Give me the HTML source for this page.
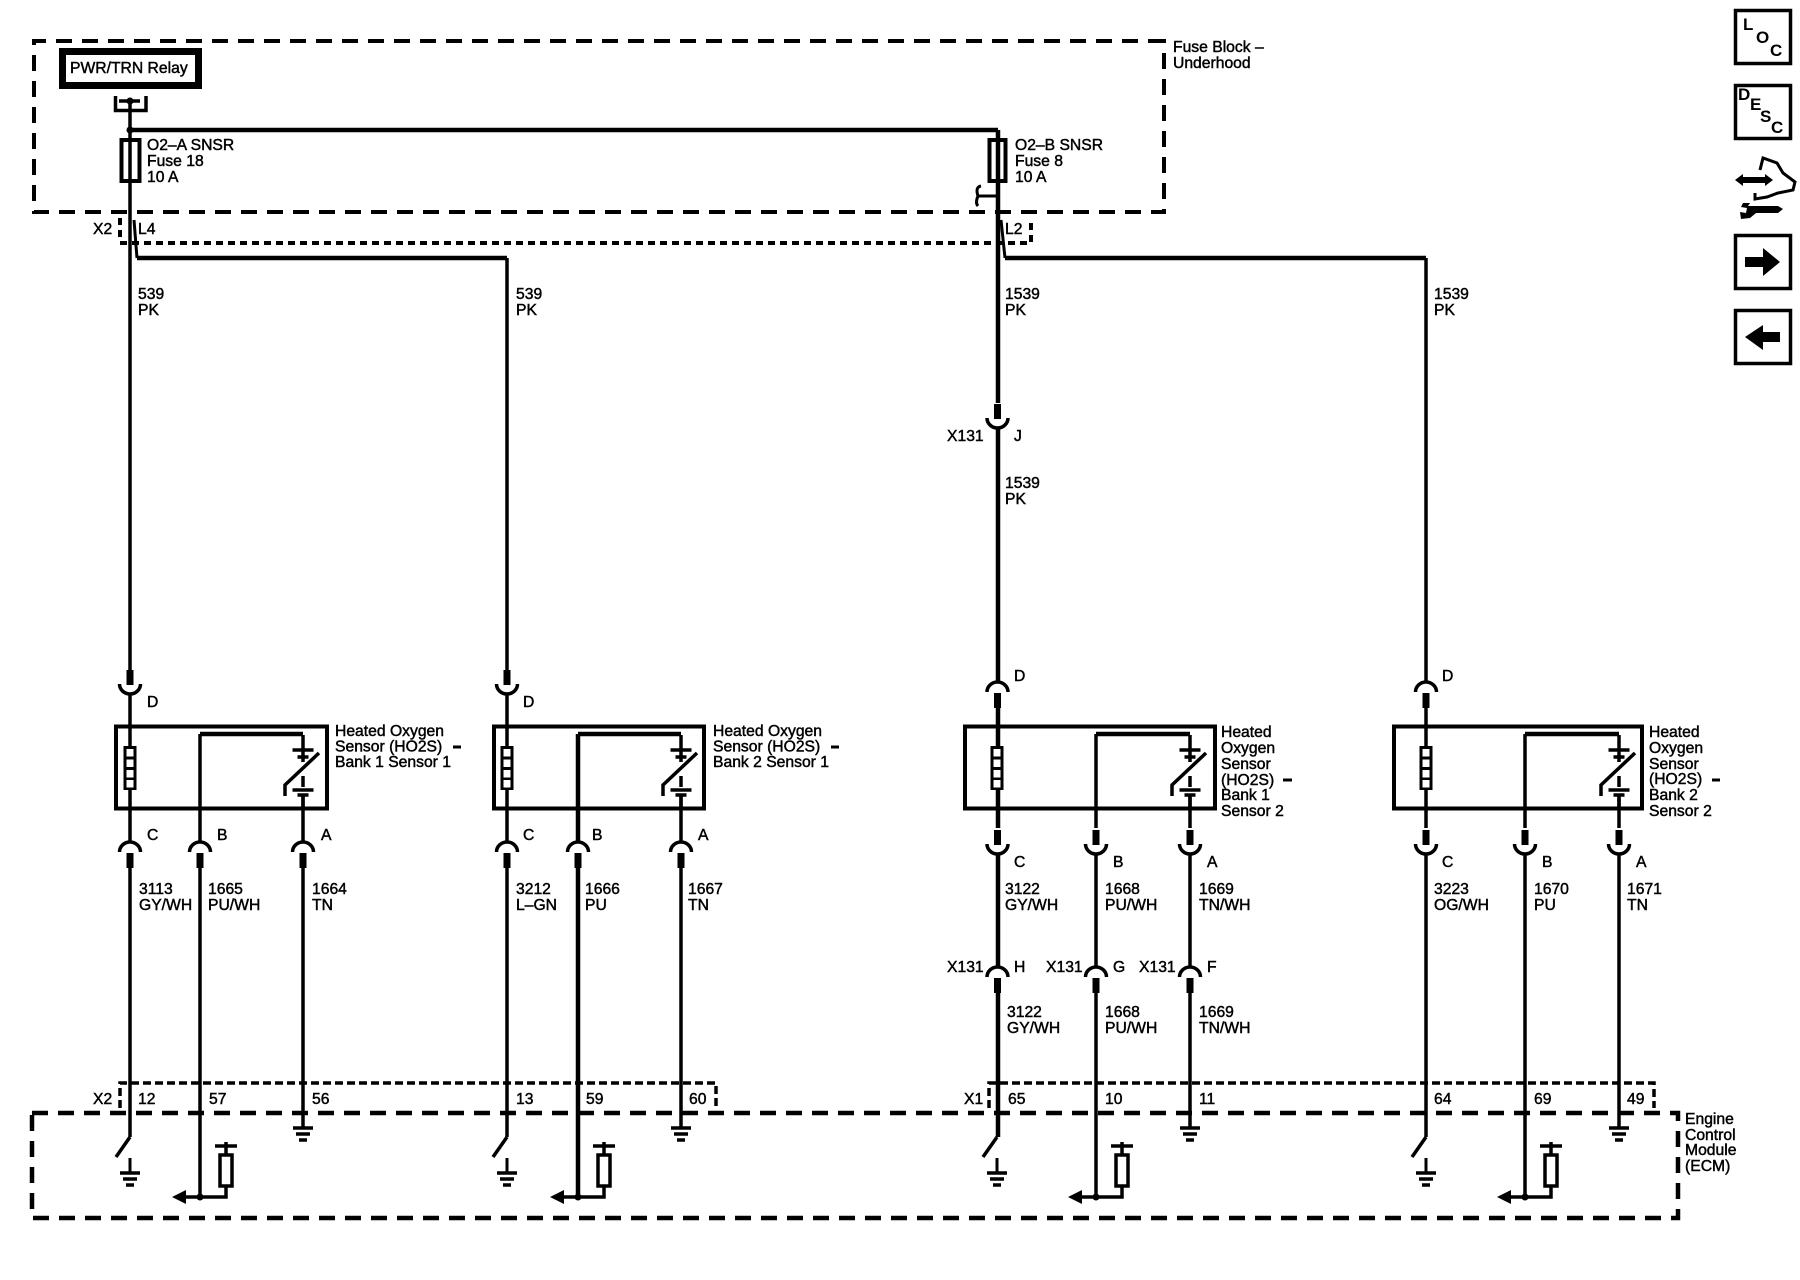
<!DOCTYPE html>
<html><head><meta charset="utf-8"><style>
html,body{margin:0;padding:0;background:#fff}
svg{display:block}
text{font-family:"Liberation Sans",sans-serif;font-size:15.7px;fill:#000;stroke:#000;stroke-width:.45}
.b{font-weight:bold;stroke-width:0;font-size:17px}
.w{fill:none;stroke:#000;stroke-width:3.5}
</style></head><body>
<svg xmlns="http://www.w3.org/2000/svg" width="1800" height="1280" viewBox="0 0 1800 1280">
<defs>
<g id="cup"><path d="M-10.5 0A10.5 10 0 0 0 10.5 0" fill="none" stroke="#000" stroke-width="3.5"/><rect x="-3.5" y="-14" width="7" height="15"/></g>
<g id="arch"><path d="M-10.5 0A10.5 10 0 0 1 10.5 0" fill="none" stroke="#000" stroke-width="3.5"/><rect x="-3.5" y="1" width="7" height="15"/></g>
<g id="heat"><rect x="-6.5" y="746" width="13" height="44"/><rect x="-3.500" y="749" width="7" height="7.500" fill="#fff"/><rect x="-3.500" y="759.500" width="7" height="7.500" fill="#fff"/><rect x="-3.500" y="770" width="7" height="7.500" fill="#fff"/><rect x="-3.500" y="780" width="7" height="7.500" fill="#fff"/></g>
<g id="sw"><path d="M0 735V750M-10.500 750H10.500M-5.500 757H5.500M0 750V762M0 776V787M-5.500 795H5.500M-10.500 790H10.500M0 795V809" fill="none" stroke="#000" stroke-width="3.500"/><path d="M-18 796V785L16 753" fill="none" stroke="#000" stroke-width="3.500"/></g>
<g id="gnd"><path d="M-10 0H10M-7 6H7M-4 12H4" stroke="#000" stroke-width="3.500"/></g>
<g id="swg"><path d="M0 1137L-14 1157" fill="none" stroke="#000" stroke-width="3.500"/><path d="M0 1158V1173" fill="none" stroke="#000" stroke-width="3"/><use href="#gnd" y="1173"/></g>
<g id="res"><path d="M15 1146H37M26 1142V1155M26 1186V1197H-14" fill="none" stroke="#000" stroke-width="3.500"/><rect x="20" y="1155" width="12" height="31" fill="#fff" stroke="#000" stroke-width="3.500"/><path d="M-28 1197L-14 1190V1204Z"/><circle cx="0" cy="1197" r="3.500"/></g>
</defs>

<!-- Fuse block -->
<g fill="none" stroke="#000">
<path d="M1164 41H34V212H1164V41Z" stroke-width="4" stroke-dasharray="16 10"/>
<path d="M120 218V240M120 243H1031V218" stroke-width="4" stroke-dasharray="7 5"/>
<path d="M32 1113H1678V1218H32Z" stroke-width="4.500" stroke-dasharray="16 10"/>
<path d="M120 1108V1083H716V1108" stroke-width="3.500" stroke-dasharray="8 4"/>
<path d="M989 1108V1083H1654V1108" stroke-width="3.500" stroke-dasharray="8 4"/>
</g>
<rect x="62.500" y="51.500" width="136" height="34" fill="none" stroke="#000" stroke-width="7"/>
<text x="70" y="73">PWR/TRN Relay</text>
<path d="M115.500 96V110.500H146V96" class="w"/>
<path d="M119 101H140" class="w"/><circle cx="130" cy="101" r="3.500"/><circle cx="130" cy="130" r="3.500"/>
<path d="M130 130H998" fill="none" stroke="#000" stroke-width="4.500"/>
<rect x="121.500" y="140" width="18" height="41" fill="none" stroke="#000" stroke-width="4"/>
<rect x="989.500" y="140" width="16" height="41" fill="none" stroke="#000" stroke-width="4"/>
<path d="M981 186Q975 187 978 196Q975 203 978 206M978 196H998" fill="none" stroke="#000" stroke-width="3"/>

<!-- main wires -->
<g fill="none" stroke="#000" stroke-width="3.500">
<path d="M130 101V670M130 693V842M130 867V1137"/>
<path d="M200 734V842M200 867V1197"/>
<path d="M303 795V842M303 867V1128"/>
<path d="M507 258V670M507 693V842M507 867V1137"/>
<path d="M681 795V842M681 867V1128"/>
<path d="M1190 795V828M1190 855V967M1190 993V1128"/>
<path d="M1096 734V828M1096 855V967M1096 993V1197"/>
<path d="M1525 734V828M1525 855V1197"/>
<path d="M1619 795V828M1619 855V1128"/>
<path d="M1426 258V681M1426 706V828M1426 855V1137"/>
<path d="M134 220L137 258" stroke-width="3"/>
<path d="M1001 220L1005 258" stroke-width="3"/>
</g>
<g fill="none" stroke="#000" stroke-width="4.500">
<path d="M578 734V842M578 867V1197"/>
<path d="M998 130V403M998 428V681M998 706V828M998 855V967M998 993V1137"/>
<path d="M137 258H507"/><path d="M1005 258H1426"/>
<path d="M200 734H303M578 734H681M1096 734H1190M1525 734H1619"/>
</g>

<!-- sensor boxes -->
<g fill="none" stroke="#000" stroke-width="4">
<rect x="116" y="726.500" width="211" height="82"/>
<rect x="494" y="726.500" width="210" height="82"/>
<rect x="965" y="726.500" width="250" height="82"/>
<rect x="1394" y="726.500" width="248" height="82"/>
</g>
<use href="#heat" x="130"/><use href="#heat" x="507"/><use href="#heat" x="997"/><use href="#heat" x="1426"/>
<use href="#sw" x="303"/><use href="#sw" x="681"/><use href="#sw" x="1190"/><use href="#sw" x="1619"/>

<!-- connectors -->
<use href="#cup" x="130" y="684"/><use href="#cup" x="507" y="684"/>
<use href="#arch" x="130" y="852"/><use href="#arch" x="200" y="852"/><use href="#arch" x="303" y="852"/>
<use href="#arch" x="507" y="852"/><use href="#arch" x="578" y="852"/><use href="#arch" x="681" y="852"/>
<use href="#cup" x="997.500" y="418"/><use href="#arch" x="997.500" y="692"/><use href="#arch" x="1426" y="692"/>
<use href="#cup" x="997.500" y="844"/><use href="#cup" x="1096" y="844"/><use href="#cup" x="1190" y="844"/>
<use href="#cup" x="1426" y="844"/><use href="#cup" x="1525" y="844"/><use href="#cup" x="1619" y="844"/>
<use href="#arch" x="997.500" y="977"/><use href="#arch" x="1096" y="977"/><use href="#arch" x="1190" y="977"/>

<!-- grounds / ECM symbols -->
<use href="#gnd" x="303" y="1128"/><use href="#gnd" x="681" y="1128"/><use href="#gnd" x="1190" y="1128"/><use href="#gnd" x="1619" y="1128"/>
<use href="#swg" x="130"/><use href="#swg" x="507"/><use href="#swg" x="997"/><use href="#swg" x="1426"/>
<use href="#res" x="200"/><use href="#res" x="578"/><use href="#res" x="1096"/><use href="#res" x="1525"/>

<!-- text -->
<text x="1173" y="52">Fuse Block –</text><text x="1173" y="68">Underhood</text>
<text x="147" y="150">O2–A SNSR</text><text x="147" y="166">Fuse 18</text><text x="147" y="182">10 A</text>
<text x="1015" y="150">O2–B SNSR</text><text x="1015" y="166">Fuse 8</text><text x="1015" y="182">10 A</text>
<text x="93" y="234">X2</text><text x="138" y="234">L4</text><text x="1005" y="234">L2</text>
<text x="138" y="299">539</text><text x="138" y="315">PK</text>
<text x="516" y="299">539</text><text x="516" y="315">PK</text>
<text x="1005" y="299">1539</text><text x="1005" y="315">PK</text>
<text x="1434" y="299">1539</text><text x="1434" y="315">PK</text>
<text x="947" y="441">X131</text><text x="1014" y="441">J</text>
<text x="1005" y="488">1539</text><text x="1005" y="504">PK</text>
<text x="147" y="707">D</text><text x="523" y="707">D</text><text x="1014" y="681">D</text><text x="1442" y="681">D</text>

<text x="335" y="736">Heated Oxygen</text><text x="335" y="751.500">Sensor (HO2S)</text><text x="335" y="767">Bank 1 Sensor 1</text>
<text x="713" y="736">Heated Oxygen</text><text x="713" y="751.500">Sensor (HO2S)</text><text x="713" y="767">Bank 2 Sensor 1</text>
<text x="1221" y="737">Heated</text><text x="1221" y="753">Oxygen</text><text x="1221" y="769">Sensor</text><text x="1221" y="785">(HO2S)</text><text x="1221" y="800">Bank 1</text><text x="1221" y="816">Sensor 2</text>
<text x="1649" y="737">Heated</text><text x="1649" y="753">Oxygen</text><text x="1649" y="769">Sensor</text><text x="1649" y="784">(HO2S)</text><text x="1649" y="800">Bank 2</text><text x="1649" y="816">Sensor 2</text>
<path d="M453 747H461M831 747H839M1283 780H1292M1712 780H1720" stroke="#000" stroke-width="3"/>

<text x="147" y="840">C</text><text x="217" y="840">B</text><text x="321" y="840">A</text>
<text x="523" y="840">C</text><text x="592" y="840">B</text><text x="698" y="840">A</text>
<text x="1014" y="867">C</text><text x="1113" y="867">B</text><text x="1207" y="867">A</text>
<text x="1442" y="867">C</text><text x="1542" y="867">B</text><text x="1636" y="867">A</text>

<text x="139" y="894">3113</text><text x="139" y="910">GY/WH</text>
<text x="208" y="894">1665</text><text x="208" y="910">PU/WH</text>
<text x="312" y="894">1664</text><text x="312" y="910">TN</text>
<text x="516" y="894">3212</text><text x="516" y="910">L–GN</text>
<text x="585" y="894">1666</text><text x="585" y="910">PU</text>
<text x="688" y="894">1667</text><text x="688" y="910">TN</text>
<text x="1005" y="894">3122</text><text x="1005" y="910">GY/WH</text>
<text x="1105" y="894">1668</text><text x="1105" y="910">PU/WH</text>
<text x="1199" y="894">1669</text><text x="1199" y="910">TN/WH</text>
<text x="1434" y="894">3223</text><text x="1434" y="910">OG/WH</text>
<text x="1534" y="894">1670</text><text x="1534" y="910">PU</text>
<text x="1627" y="894">1671</text><text x="1627" y="910">TN</text>

<text x="947" y="972">X131</text><text x="1014" y="972">H</text>
<text x="1046" y="972">X131</text><text x="1113" y="972">G</text>
<text x="1139" y="972">X131</text><text x="1207" y="972">F</text>
<text x="1007" y="1017">3122</text><text x="1007" y="1033">GY/WH</text>
<text x="1105" y="1017">1668</text><text x="1105" y="1033">PU/WH</text>
<text x="1199" y="1017">1669</text><text x="1199" y="1033">TN/WH</text>

<text x="93" y="1104">X2</text><text x="138" y="1104">12</text><text x="209" y="1104">57</text><text x="312" y="1104">56</text>
<text x="516" y="1104">13</text><text x="586" y="1104">59</text><text x="689" y="1104">60</text>
<text x="964" y="1104">X1</text><text x="1008" y="1104">65</text><text x="1105" y="1104">10</text><text x="1199" y="1104">11</text>
<text x="1434" y="1104">64</text><text x="1534" y="1104">69</text><text x="1627" y="1104">49</text>
<text x="1685" y="1124">Engine</text><text x="1685" y="1140">Control</text><text x="1685" y="1155">Module</text><text x="1685" y="1171">(ECM)</text>

<!-- nav icons -->
<g fill="none" stroke="#000" stroke-width="3.500">
<rect x="1735.500" y="10.500" width="55" height="53"/>
<rect x="1735.500" y="85.500" width="55" height="53"/>
<rect x="1735.500" y="235.500" width="55" height="53"/>
<rect x="1735.500" y="310.500" width="55" height="53"/>
<path d="M1760 170L1763 158L1777 163L1783 173L1795 182L1793 190L1778 193L1767 197L1755 199V193" stroke-width="3"/>
</g>
<text class="b" x="1743" y="30">L</text><text class="b" x="1756" y="43">O</text><text class="b" x="1770" y="56">C</text>
<text class="b" x="1738" y="100">D</text><text class="b" x="1750" y="110">E</text><text class="b" x="1760" y="122">S</text><text class="b" x="1771" y="133">C</text>
<path d="M1735 180L1743 174V177H1765V174L1773 180L1765 186V183H1743V186Z"/>
<path d="M1748 206H1778L1783 209L1778 213H1756L1750 218L1741 219L1740 212L1746 213L1747 208L1741 207L1743 203L1750 203Z"/>
<path d="M1745 257H1763V248L1780 262L1763 276V267H1745Z"/>
<path d="M1780 332H1763V325L1745 337L1763 350V342H1780Z"/>
</svg>
</body></html>
